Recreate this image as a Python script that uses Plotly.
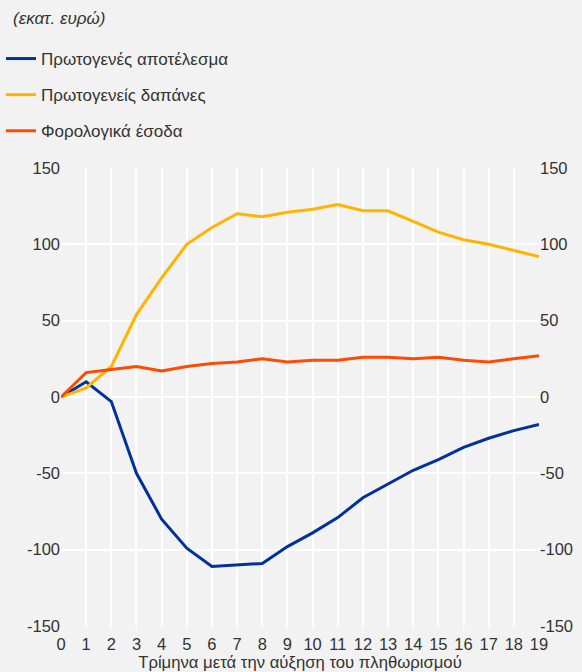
import plotly.graph_objects as go

quarters = list(range(20))
primary_balance = [0, 10, -3, -50, -80, -99, -111, -110, -109, -98, -89, -79, -66, -57, -48, -41, -33, -27, -22, -18]
primary_spending = [0, 6, 20, 54, 78, 100, 111, 120, 118, 121, 123, 126, 122, 122, 115, 108, 103, 100, 96, 92]
tax_revenue = [0, 16, 18, 20, 17, 20, 22, 23, 25, 23, 24, 24, 26, 26, 25, 26, 24, 23, 25, 27]

names = ["Πρωτογενές αποτέλεσμα", "Πρωτογενείς δαπάνες", "Φορολογικά έσοδα"]
colors = ["#003299", "#ffb400", "#ff4b00"]
y_ticks = [-150, -100, -50, 0, 50, 100, 150]
y_ticktext = ["-150", "-100", "-50", "0", "50", "100", "150"]
x_title = "Τρίμηνα μετά την αύξηση του πληθωρισμού"
unit_title = "(εκατ. ευρώ)"

FONT = "Liberation Sans, Arial, Helvetica, sans-serif"
BG = "#f2f2f2"
TXT = "#333333"

W, H = 582, 672
ML, MR, MT, MB = 61, 43, 168, 46
PW, PH = W - ML - MR, H - MT - MB

fig = go.Figure()
for i, (nm, ser, col) in enumerate(zip(names, [primary_balance, primary_spending, tax_revenue], colors)):
    fig.add_trace(go.Scatter(x=quarters, y=ser, mode="lines", name=nm,
                             line=dict(color=col, width=3), legendgroup=str(i)))
# invisible trace to anchor the right-hand axis
fig.add_trace(go.Scatter(x=quarters, y=tax_revenue, mode="lines", yaxis="y2",
                         line=dict(color="rgba(0,0,0,0)", width=0), showlegend=False, hoverinfo="skip"))

axis_common = dict(range=[-150, 150], tickvals=y_ticks, ticktext=y_ticktext, showgrid=True,
                   gridcolor="white", gridwidth=1.5, automargin=False,
                   zeroline=False, showline=False, ticks="", tickfont=dict(size=16.5, color=TXT, family=FONT))

fig.update_layout(
    width=W, height=H,
    paper_bgcolor=BG, plot_bgcolor=BG,
    margin=dict(l=ML, r=MR, t=MT, b=MB, autoexpand=False),
    font=dict(family=FONT, color=TXT, size=16.5),
    xaxis=dict(range=[0, 19], tickvals=quarters, showgrid=True, gridcolor="white", gridwidth=1.5,
               zeroline=False, showline=False, ticks="outside", ticklen=3, tickcolor="white",
               automargin=False,
               tickfont=dict(size=16.5, color=TXT, family=FONT),
               title=dict(text=x_title, font=dict(size=16.7, color=TXT, family=FONT), standoff=1)),
    yaxis=dict(side="left", **axis_common),
    yaxis2=dict(side="right", overlaying="y", **axis_common),
    showlegend=True,
    legend=dict(x=(1 - ML) / PW, y=(H - MB - 41) / PH, xanchor="left", yanchor="top", orientation="v",
                bgcolor="rgba(0,0,0,0)", tracegroupgap=11, itemwidth=30,
                font=dict(size=17, color=TXT, family=FONT)),
    annotations=[dict(text="<i>" + unit_title + "</i>", xref="paper", yref="paper",
                      x=(11 - ML) / PW, y=(H - MB - 19) / PH, xanchor="left", yanchor="middle",
                      showarrow=False, font=dict(size=17, color=TXT, family=FONT))],
)

fig.write_html("out.html", config={"displayModeBar": False},
               post_script="document.body.style.margin='0';document.body.style.overflow='hidden';")
